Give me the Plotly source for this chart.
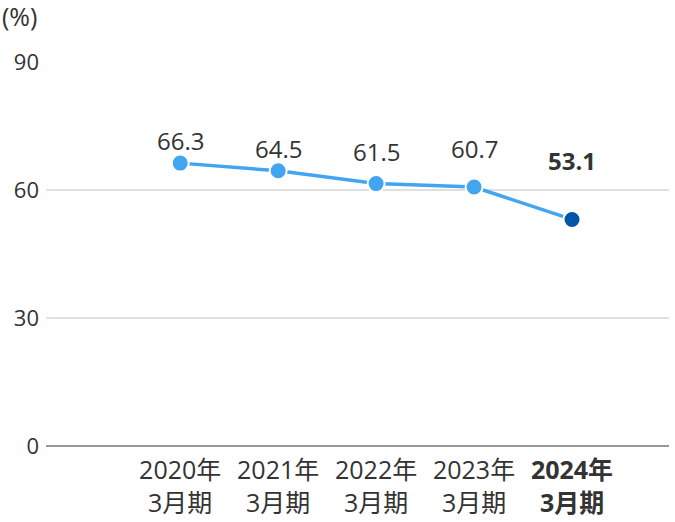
import plotly.graph_objects as go

categories = ["2020年<br>3月期", "2021年<br>3月期", "2022年<br>3月期", "2023年<br>3月期", "<b>2024年<br>3月期</b>"]
values = [66.3, 64.5, 61.5, 60.7, 53.1]
label_texts = ["66.3", "64.5", "61.5", "60.7", "<b>53.1</b>"]
label_shift = [23, 22, 32, 39, 59]
marker_colors = ["#42a5f0", "#42a5f0", "#42a5f0", "#42a5f0", "#0057a8"]
y_ticks = [0, 30, 60, 90]

xs = list(range(len(categories)))
font = "Open Sans, Noto Sans CJK JP, sans-serif"

fig = go.Figure()
fig.add_trace(go.Scatter(
    x=xs, y=values, mode="lines+markers",
    line=dict(color="#42a5f0", width=3.5),
    marker=dict(size=17, color=marker_colors, line=dict(color="white", width=2)),
    hoverinfo="skip", showlegend=False,
))

for x, v, t, s in zip(xs, values, label_texts, label_shift):
    fig.add_annotation(x=x, y=v, text=t, showarrow=False, yanchor="middle",
                       yshift=s, font=dict(size=24, color="#333333", family=font))

fig.add_annotation(xref="paper", yref="paper", x=0, y=1, xshift=-46, yshift=46,
                   xanchor="left", yanchor="middle", text="(%)", showarrow=False,
                   font=dict(size=25, color="#333333", family=font))

fig.update_layout(
    width=675, height=522,
    margin=dict(l=46, r=6, t=62, b=76),
    paper_bgcolor="white", plot_bgcolor="white",
    font=dict(family=font, color="#333333", size=20),
)
fig.update_xaxes(
    range=[-1.37, 4.99], tickvals=xs, ticktext=categories,
    showgrid=False, zeroline=False, showline=False, ticks="",
    tickfont=dict(size=25, color="#333333"), ticklabelstandoff=7, fixedrange=True,
    automargin=False,
)
fig.update_yaxes(
    range=[0, 90], tickvals=y_ticks, showgrid=True, gridcolor="#e0e0e0", gridwidth=1.5,
    zeroline=True, zerolinecolor="#999999", zerolinewidth=2, showline=False,
    ticks="", tickfont=dict(size=22, color="#333333"), ticklabelstandoff=6,
    fixedrange=True, automargin=False,
)
fig.write_html("out.html")
